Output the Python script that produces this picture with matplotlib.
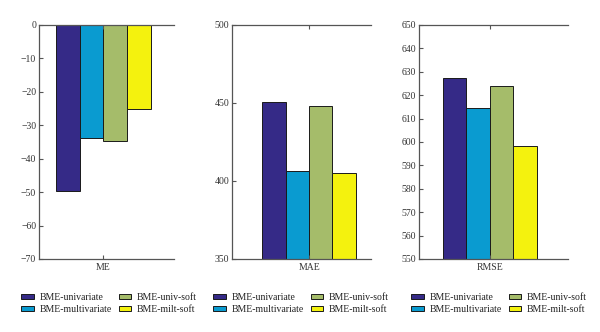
import matplotlib
matplotlib.use("Agg")
import matplotlib.pyplot as plt
from matplotlib.patches import Patch

plt.rcParams['font.family'] = ['Liberation Serif', 'DejaVu Serif']
plt.rcParams['axes.unicode_minus'] = True

methods = ["BME-univariate", "BME-multivariate", "BME-univ-soft", "BME-milt-soft"]
colors = ["#352a87", "#0a9bd0", "#a5bc6a", "#f4f20e"]

metrics = ["ME", "MAE", "RMSE"]
me_vals = [-49.6, -33.9, -34.7, -25.3]
mae_vals = [450.4, 406.2, 447.9, 405.3]
rmse_vals = [627.5, 614.4, 623.7, 598.2]
values = [me_vals, mae_vals, rmse_vals]

ylims = [(-70, 0), (350, 500), (550, 650)]
yticks = [list(range(-70, 1, 10)), [350, 400, 450, 500], list(range(550, 651, 10))]
xlims = [(-2.73, 2.99), (-3.28, 2.66), (-3.01, 3.31)]

# axes rectangles in figure fraction: [left, bottom, width, height]
rects = [
    [0.065, 0.220, 0.225, 0.705],
    [0.387, 0.220, 0.232, 0.705],
    [0.698, 0.220, 0.248, 0.705],
]
legend_anchor = [(0.035, 0.118), (0.355, 0.118), (0.685, 0.118)]

fig = plt.figure(figsize=(6.0, 3.32), dpi=100)
offsets = [-1.5, -0.5, 0.5, 1.5]

for i, metric in enumerate(metrics):
    ax = fig.add_axes(rects[i])
    base = min(0, ylims[i][0]) if ylims[i][0] < 0 else ylims[i][0]
    for j, v in enumerate(values[i]):
        if ylims[i][0] < 0:
            ax.bar(offsets[j], v, width=1.0, color=colors[j], edgecolor="#1a1a1a", linewidth=0.7)
        else:
            ax.bar(offsets[j], v - base, bottom=base, width=1.0, color=colors[j],
                   edgecolor="#1a1a1a", linewidth=0.7)
    ax.set_xlim(*xlims[i])
    ax.set_ylim(*ylims[i])
    ax.set_yticks(yticks[i])
    ax.set_xticks([0])
    ax.set_xticklabels([metric])
    ax.spines['right'].set_visible(False)
    for s in ['left', 'top', 'bottom']:
        ax.spines[s].set_color("#555555")
        ax.spines[s].set_linewidth(0.9)
    ax.tick_params(direction='in', length=3, width=0.8, color="#555555",
                   labelsize=7, top=True, right=False, pad=2, labelcolor="#333333")
    ax.tick_params(axis='x', pad=3)

    handles = [Patch(facecolor=c, edgecolor="#1a1a1a", linewidth=0.7) for c in colors]
    fig.legend(handles, methods, loc='upper left', bbox_to_anchor=legend_anchor[i],
               ncol=2, frameon=False, fontsize=7, handlelength=1.3, handleheight=0.45,
               handletextpad=0.6, columnspacing=0.7, labelspacing=0.3, borderpad=0,
               borderaxespad=0, labelcolor="#222222")

fig.savefig("out.png", dpi=100)
